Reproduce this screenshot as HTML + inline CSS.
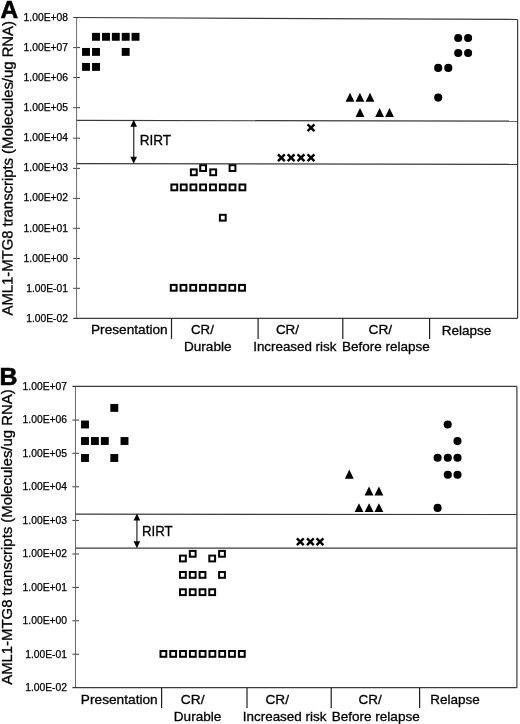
<!DOCTYPE html>
<html><head><meta charset="utf-8"><style>
html,body{margin:0;padding:0;background:#fff;}
body{width:520px;height:724px;overflow:hidden;}
svg{display:block;filter:grayscale(1);}
text{font-family:"Liberation Sans", sans-serif;fill:#000;}
</style></head><body>
<svg width="520" height="724" viewBox="0 0 520 724">
<rect width="520" height="724" fill="#fff"/>
<text x="68" y="21.10" font-size="10" text-anchor="end" textLength="44.38" lengthAdjust="spacingAndGlyphs" stroke="#000" stroke-width="0.25">1.00E+08</text>
<text x="68" y="51.16" font-size="10" text-anchor="end" textLength="44.38" lengthAdjust="spacingAndGlyphs" stroke="#000" stroke-width="0.25">1.00E+07</text>
<line x1="73.3" y1="47.60" x2="80" y2="47.60" stroke="#383838" stroke-width="1.0"/>
<text x="68" y="81.22" font-size="10" text-anchor="end" textLength="44.38" lengthAdjust="spacingAndGlyphs" stroke="#000" stroke-width="0.25">1.00E+06</text>
<line x1="73.3" y1="77.50" x2="80" y2="77.50" stroke="#383838" stroke-width="1.0"/>
<text x="68" y="111.28" font-size="10" text-anchor="end" textLength="44.38" lengthAdjust="spacingAndGlyphs" stroke="#000" stroke-width="0.25">1.00E+05</text>
<line x1="73.3" y1="107.70" x2="80" y2="107.70" stroke="#383838" stroke-width="1.0"/>
<text x="68" y="141.34" font-size="10" text-anchor="end" textLength="44.38" lengthAdjust="spacingAndGlyphs" stroke="#000" stroke-width="0.25">1.00E+04</text>
<line x1="73.3" y1="138.20" x2="80" y2="138.20" stroke="#383838" stroke-width="1.0"/>
<text x="68" y="171.40" font-size="10" text-anchor="end" textLength="44.38" lengthAdjust="spacingAndGlyphs" stroke="#000" stroke-width="0.25">1.00E+03</text>
<line x1="73.3" y1="168.40" x2="80" y2="168.40" stroke="#383838" stroke-width="1.0"/>
<text x="68" y="201.46" font-size="10" text-anchor="end" textLength="44.38" lengthAdjust="spacingAndGlyphs" stroke="#000" stroke-width="0.25">1.00E+02</text>
<line x1="73.3" y1="198.40" x2="80" y2="198.40" stroke="#383838" stroke-width="1.0"/>
<text x="68" y="231.52" font-size="10" text-anchor="end" textLength="44.38" lengthAdjust="spacingAndGlyphs" stroke="#000" stroke-width="0.25">1.00E+01</text>
<line x1="73.3" y1="228.30" x2="80" y2="228.30" stroke="#383838" stroke-width="1.0"/>
<text x="68" y="261.58" font-size="10" text-anchor="end" textLength="44.38" lengthAdjust="spacingAndGlyphs" stroke="#000" stroke-width="0.25">1.00E+00</text>
<line x1="73.3" y1="258.50" x2="80" y2="258.50" stroke="#383838" stroke-width="1.0"/>
<text x="68" y="291.64" font-size="10" text-anchor="end" textLength="41.80" lengthAdjust="spacingAndGlyphs" stroke="#000" stroke-width="0.25">1.00E-01</text>
<line x1="73.3" y1="288.30" x2="80" y2="288.30" stroke="#383838" stroke-width="1.0"/>
<text x="68" y="321.70" font-size="10" text-anchor="end" textLength="41.80" lengthAdjust="spacingAndGlyphs" stroke="#000" stroke-width="0.25">1.00E-02</text>
<line x1="76.6" y1="17.5" x2="76.6" y2="318.3" stroke="#6a6a6a" stroke-width="1.0"/>
<line x1="73.3" y1="17.5" x2="517.6" y2="19.5" stroke="#3a3a3a" stroke-width="1.2"/>
<line x1="517.6" y1="19.5" x2="517.6" y2="318.3" stroke="#3a3a3a" stroke-width="1.2"/>
<line x1="73.3" y1="318.3" x2="517.6" y2="318.3" stroke="#3a3a3a" stroke-width="1.2"/>
<line x1="76.6" y1="120.4" x2="517.6" y2="121.2" stroke="#3a3a3a" stroke-width="1.2"/>
<line x1="76.6" y1="163.6" x2="517.6" y2="164.4" stroke="#3a3a3a" stroke-width="1.2"/>
<line x1="171.5" y1="318.3" x2="171.5" y2="338.9" stroke="#1e1e1e" stroke-width="1.2"/>
<line x1="258.1" y1="318.3" x2="258.1" y2="338.9" stroke="#1e1e1e" stroke-width="1.2"/>
<line x1="342.8" y1="318.3" x2="342.8" y2="338.9" stroke="#1e1e1e" stroke-width="1.2"/>
<line x1="429.6" y1="318.3" x2="429.6" y2="338.9" stroke="#1e1e1e" stroke-width="1.2"/>
<line x1="133.7" y1="122.80000000000001" x2="133.7" y2="160.7" stroke="#444" stroke-width="1.4"/>
<path d="M133.7 119.80L137.0 126.80L130.39999999999998 126.80Z" fill="#000"/>
<path d="M133.7 163.70L137.0 156.70L130.39999999999998 156.70Z" fill="#000"/>
<text x="90.98" y="334.4" font-size="13.4" textLength="76.73" lengthAdjust="spacingAndGlyphs" stroke="#000" stroke-width="0.3">Presentation</text>
<text x="191.01" y="334.3" font-size="13.4" textLength="22.85" lengthAdjust="spacingAndGlyphs" stroke="#000" stroke-width="0.3">CR/</text>
<text x="183.99" y="350.9" font-size="13.4" textLength="47.53" lengthAdjust="spacingAndGlyphs" stroke="#000" stroke-width="0.3">Durable</text>
<text x="275.9" y="334.2" font-size="13.4" textLength="23.17" lengthAdjust="spacingAndGlyphs" stroke="#000" stroke-width="0.3">CR/</text>
<text x="253.2" y="350.6" font-size="13.4" textLength="83.16" lengthAdjust="spacingAndGlyphs" stroke="#000" stroke-width="0.3">Increased risk</text>
<text x="368.58" y="334.2" font-size="13.4" textLength="23.59" lengthAdjust="spacingAndGlyphs" stroke="#000" stroke-width="0.3">CR/</text>
<text x="341.99" y="350.5" font-size="13.4" textLength="87.8" lengthAdjust="spacingAndGlyphs" stroke="#000" stroke-width="0.3">Before relapse</text>
<text x="441.69" y="334.6" font-size="13.4" textLength="49.65" lengthAdjust="spacingAndGlyphs" stroke="#000" stroke-width="0.3">Relapse</text>
<text x="139.63" y="144.6" font-size="14" textLength="31.38" lengthAdjust="spacingAndGlyphs" stroke="#000" stroke-width="0.3">RIRT</text>
<text x="0.0" y="0" font-size="14.9" textLength="294.40" lengthAdjust="spacingAndGlyphs" transform="translate(12.4,315.5) rotate(-89.9)" stroke="#000" stroke-width="0.3">AML1-MTG8 transcripts (Molecules/ug RNA)</text>
<text x="0.48" y="18.1" font-size="24" font-weight="bold" textLength="17.67" lengthAdjust="spacingAndGlyphs" stroke="#000" stroke-width="0.6">A</text>
<text x="67" y="389.70" font-size="10" text-anchor="end" textLength="44.38" lengthAdjust="spacingAndGlyphs" stroke="#000" stroke-width="0.25">1.00E+07</text>
<text x="67" y="423.19" font-size="10" text-anchor="end" textLength="44.38" lengthAdjust="spacingAndGlyphs" stroke="#000" stroke-width="0.25">1.00E+06</text>
<line x1="72.4" y1="420.10" x2="79" y2="420.10" stroke="#383838" stroke-width="1.0"/>
<text x="67" y="456.68" font-size="10" text-anchor="end" textLength="44.38" lengthAdjust="spacingAndGlyphs" stroke="#000" stroke-width="0.25">1.00E+05</text>
<line x1="72.4" y1="453.30" x2="79" y2="453.30" stroke="#383838" stroke-width="1.0"/>
<text x="67" y="490.17" font-size="10" text-anchor="end" textLength="44.38" lengthAdjust="spacingAndGlyphs" stroke="#000" stroke-width="0.25">1.00E+04</text>
<line x1="72.4" y1="486.80" x2="79" y2="486.80" stroke="#383838" stroke-width="1.0"/>
<text x="67" y="523.66" font-size="10" text-anchor="end" textLength="44.38" lengthAdjust="spacingAndGlyphs" stroke="#000" stroke-width="0.25">1.00E+03</text>
<line x1="72.4" y1="520.40" x2="79" y2="520.40" stroke="#383838" stroke-width="1.0"/>
<text x="67" y="557.14" font-size="10" text-anchor="end" textLength="44.38" lengthAdjust="spacingAndGlyphs" stroke="#000" stroke-width="0.25">1.00E+02</text>
<line x1="72.4" y1="554.00" x2="79" y2="554.00" stroke="#383838" stroke-width="1.0"/>
<text x="67" y="590.63" font-size="10" text-anchor="end" textLength="44.38" lengthAdjust="spacingAndGlyphs" stroke="#000" stroke-width="0.25">1.00E+01</text>
<line x1="72.4" y1="587.40" x2="79" y2="587.40" stroke="#383838" stroke-width="1.0"/>
<text x="67" y="624.12" font-size="10" text-anchor="end" textLength="44.38" lengthAdjust="spacingAndGlyphs" stroke="#000" stroke-width="0.25">1.00E+00</text>
<line x1="72.4" y1="620.80" x2="79" y2="620.80" stroke="#383838" stroke-width="1.0"/>
<text x="67" y="657.61" font-size="10" text-anchor="end" textLength="41.80" lengthAdjust="spacingAndGlyphs" stroke="#000" stroke-width="0.25">1.00E-01</text>
<line x1="72.4" y1="654.20" x2="79" y2="654.20" stroke="#383838" stroke-width="1.0"/>
<text x="67" y="691.10" font-size="10" text-anchor="end" textLength="41.80" lengthAdjust="spacingAndGlyphs" stroke="#000" stroke-width="0.25">1.00E-02</text>
<line x1="75.5" y1="386.3" x2="75.5" y2="687.7" stroke="#6a6a6a" stroke-width="1.0"/>
<line x1="72.4" y1="386.3" x2="516.9" y2="386.4" stroke="#3a3a3a" stroke-width="1.2"/>
<line x1="516.9" y1="386.4" x2="516.9" y2="687.7" stroke="#3a3a3a" stroke-width="1.2"/>
<line x1="72.4" y1="687.7" x2="516.9" y2="687.7" stroke="#3a3a3a" stroke-width="1.2"/>
<line x1="75.5" y1="514.2" x2="516.9" y2="514.5" stroke="#3a3a3a" stroke-width="1.2"/>
<line x1="75.5" y1="548.2" x2="516.9" y2="548.2" stroke="#3a3a3a" stroke-width="1.2"/>
<line x1="161.6" y1="687.7" x2="161.6" y2="708" stroke="#1e1e1e" stroke-width="1.2"/>
<line x1="247.0" y1="687.7" x2="247.0" y2="708" stroke="#1e1e1e" stroke-width="1.2"/>
<line x1="331.2" y1="687.7" x2="331.2" y2="708" stroke="#1e1e1e" stroke-width="1.2"/>
<line x1="419.6" y1="687.7" x2="419.6" y2="708" stroke="#1e1e1e" stroke-width="1.2"/>
<line x1="136.9" y1="516.6" x2="136.9" y2="545.3000000000001" stroke="#444" stroke-width="1.4"/>
<path d="M136.9 513.60L140.20000000000002 520.60L133.6 520.60Z" fill="#000"/>
<path d="M136.9 548.30L140.20000000000002 541.30L133.6 541.30Z" fill="#000"/>
<text x="80.88" y="703.5" font-size="13.4" textLength="76.84" lengthAdjust="spacingAndGlyphs" stroke="#000" stroke-width="0.3">Presentation</text>
<text x="180.87" y="703.8" font-size="13.4" textLength="23.8" lengthAdjust="spacingAndGlyphs" stroke="#000" stroke-width="0.3">CR/</text>
<text x="173.79" y="720.5" font-size="13.4" textLength="47.53" lengthAdjust="spacingAndGlyphs" stroke="#000" stroke-width="0.3">Durable</text>
<text x="265.48" y="703.8" font-size="13.4" textLength="23.59" lengthAdjust="spacingAndGlyphs" stroke="#000" stroke-width="0.3">CR/</text>
<text x="242.8" y="720.5" font-size="13.4" textLength="83.56" lengthAdjust="spacingAndGlyphs" stroke="#000" stroke-width="0.3">Increased risk</text>
<text x="358.6" y="703.8" font-size="13.4" textLength="23.17" lengthAdjust="spacingAndGlyphs" stroke="#000" stroke-width="0.3">CR/</text>
<text x="331.69" y="720.5" font-size="13.4" textLength="88.01" lengthAdjust="spacingAndGlyphs" stroke="#000" stroke-width="0.3">Before relapse</text>
<text x="430.19" y="703.7" font-size="13.4" textLength="49.55" lengthAdjust="spacingAndGlyphs" stroke="#000" stroke-width="0.3">Relapse</text>
<text x="141.95" y="535.6" font-size="14" textLength="30.75" lengthAdjust="spacingAndGlyphs" stroke="#000" stroke-width="0.3">RIRT</text>
<text x="0.0" y="0" font-size="14.9" textLength="295.40" lengthAdjust="spacingAndGlyphs" transform="translate(11.7,684.8) rotate(-90)" stroke="#000" stroke-width="0.3">AML1-MTG8 transcripts (Molecules/ug RNA)</text>
<text x="-0.57" y="385.4" font-size="24" font-weight="bold" textLength="17.96" lengthAdjust="spacingAndGlyphs" stroke="#000" stroke-width="0.6">B</text>
<rect x="92.05" y="32.85" width="7.9" height="7.9" fill="#000"/>
<rect x="102.05" y="32.85" width="7.9" height="7.9" fill="#000"/>
<rect x="111.85" y="32.85" width="7.9" height="7.9" fill="#000"/>
<rect x="121.75" y="32.85" width="7.9" height="7.9" fill="#000"/>
<rect x="131.55" y="32.85" width="7.9" height="7.9" fill="#000"/>
<rect x="82.05" y="47.95" width="7.9" height="7.9" fill="#000"/>
<rect x="92.05" y="47.95" width="7.9" height="7.9" fill="#000"/>
<rect x="121.75" y="47.95" width="7.9" height="7.9" fill="#000"/>
<rect x="82.05" y="62.95" width="7.9" height="7.9" fill="#000"/>
<rect x="92.05" y="62.95" width="7.9" height="7.9" fill="#000"/>
<rect x="190.90" y="169.40" width="5.80" height="5.80" fill="none" stroke="#000" stroke-width="2.0"/>
<rect x="200.20" y="165.20" width="5.80" height="5.80" fill="none" stroke="#000" stroke-width="2.0"/>
<rect x="210.30" y="169.40" width="5.80" height="5.80" fill="none" stroke="#000" stroke-width="2.0"/>
<rect x="229.60" y="165.20" width="5.80" height="5.80" fill="none" stroke="#000" stroke-width="2.0"/>
<rect x="171.40" y="184.50" width="5.80" height="5.80" fill="none" stroke="#000" stroke-width="2.0"/>
<rect x="180.80" y="184.50" width="5.80" height="5.80" fill="none" stroke="#000" stroke-width="2.0"/>
<rect x="190.50" y="184.50" width="5.80" height="5.80" fill="none" stroke="#000" stroke-width="2.0"/>
<rect x="200.20" y="184.50" width="5.80" height="5.80" fill="none" stroke="#000" stroke-width="2.0"/>
<rect x="210.10" y="184.50" width="5.80" height="5.80" fill="none" stroke="#000" stroke-width="2.0"/>
<rect x="219.90" y="184.50" width="5.80" height="5.80" fill="none" stroke="#000" stroke-width="2.0"/>
<rect x="229.60" y="184.50" width="5.80" height="5.80" fill="none" stroke="#000" stroke-width="2.0"/>
<rect x="239.50" y="184.50" width="5.80" height="5.80" fill="none" stroke="#000" stroke-width="2.0"/>
<rect x="219.90" y="214.80" width="5.80" height="5.80" fill="none" stroke="#000" stroke-width="2.0"/>
<rect x="170.80" y="284.90" width="5.80" height="5.80" fill="none" stroke="#000" stroke-width="2.0"/>
<rect x="180.56" y="284.90" width="5.80" height="5.80" fill="none" stroke="#000" stroke-width="2.0"/>
<rect x="190.32" y="284.90" width="5.80" height="5.80" fill="none" stroke="#000" stroke-width="2.0"/>
<rect x="200.08" y="284.90" width="5.80" height="5.80" fill="none" stroke="#000" stroke-width="2.0"/>
<rect x="209.84" y="284.90" width="5.80" height="5.80" fill="none" stroke="#000" stroke-width="2.0"/>
<rect x="219.60" y="284.90" width="5.80" height="5.80" fill="none" stroke="#000" stroke-width="2.0"/>
<rect x="229.36" y="284.90" width="5.80" height="5.80" fill="none" stroke="#000" stroke-width="2.0"/>
<rect x="239.12" y="284.90" width="5.80" height="5.80" fill="none" stroke="#000" stroke-width="2.0"/>
<path d="M307.60 124.40L314.40 131.20M314.40 124.40L307.60 131.20" stroke="#000" stroke-width="2.4" fill="none"/>
<path d="M278.00 154.30L284.80 161.10M284.80 154.30L278.00 161.10" stroke="#000" stroke-width="2.4" fill="none"/>
<path d="M287.70 154.30L294.50 161.10M294.50 154.30L287.70 161.10" stroke="#000" stroke-width="2.4" fill="none"/>
<path d="M297.60 154.30L304.40 161.10M304.40 154.30L297.60 161.10" stroke="#000" stroke-width="2.4" fill="none"/>
<path d="M307.60 154.30L314.40 161.10M314.40 154.30L307.60 161.10" stroke="#000" stroke-width="2.4" fill="none"/>
<path d="M350.00 92.80L354.40 101.70L345.60 101.70Z" fill="#000"/>
<path d="M359.90 92.80L364.30 101.70L355.50 101.70Z" fill="#000"/>
<path d="M370.00 92.80L374.40 101.70L365.60 101.70Z" fill="#000"/>
<path d="M360.00 108.00L364.40 117.00L355.60 117.00Z" fill="#000"/>
<path d="M379.60 108.00L384.00 117.00L375.20 117.00Z" fill="#000"/>
<path d="M389.50 108.00L393.90 117.00L385.10 117.00Z" fill="#000"/>
<circle cx="458.20" cy="38.00" r="4.05" fill="#000"/>
<circle cx="468.10" cy="38.00" r="4.05" fill="#000"/>
<circle cx="458.20" cy="53.00" r="4.05" fill="#000"/>
<circle cx="468.10" cy="53.00" r="4.05" fill="#000"/>
<circle cx="438.20" cy="67.90" r="4.05" fill="#000"/>
<circle cx="448.30" cy="67.90" r="4.05" fill="#000"/>
<circle cx="438.20" cy="97.60" r="4.05" fill="#000"/>
<rect x="110.35" y="403.95" width="7.9" height="7.9" fill="#000"/>
<rect x="81.05" y="420.55" width="7.9" height="7.9" fill="#000"/>
<rect x="81.05" y="437.05" width="7.9" height="7.9" fill="#000"/>
<rect x="90.95" y="437.05" width="7.9" height="7.9" fill="#000"/>
<rect x="100.85" y="437.05" width="7.9" height="7.9" fill="#000"/>
<rect x="120.55" y="437.05" width="7.9" height="7.9" fill="#000"/>
<rect x="81.05" y="454.05" width="7.9" height="7.9" fill="#000"/>
<rect x="110.35" y="454.05" width="7.9" height="7.9" fill="#000"/>
<rect x="180.00" y="555.60" width="5.80" height="5.80" fill="none" stroke="#000" stroke-width="2.0"/>
<rect x="189.80" y="550.90" width="5.80" height="5.80" fill="none" stroke="#000" stroke-width="2.0"/>
<rect x="209.30" y="555.60" width="5.80" height="5.80" fill="none" stroke="#000" stroke-width="2.0"/>
<rect x="219.10" y="550.90" width="5.80" height="5.80" fill="none" stroke="#000" stroke-width="2.0"/>
<rect x="180.00" y="572.00" width="5.80" height="5.80" fill="none" stroke="#000" stroke-width="2.0"/>
<rect x="189.80" y="572.00" width="5.80" height="5.80" fill="none" stroke="#000" stroke-width="2.0"/>
<rect x="199.60" y="572.00" width="5.80" height="5.80" fill="none" stroke="#000" stroke-width="2.0"/>
<rect x="219.10" y="572.00" width="5.80" height="5.80" fill="none" stroke="#000" stroke-width="2.0"/>
<rect x="180.00" y="589.30" width="5.80" height="5.80" fill="none" stroke="#000" stroke-width="2.0"/>
<rect x="189.80" y="589.30" width="5.80" height="5.80" fill="none" stroke="#000" stroke-width="2.0"/>
<rect x="199.60" y="589.30" width="5.80" height="5.80" fill="none" stroke="#000" stroke-width="2.0"/>
<rect x="209.30" y="589.30" width="5.80" height="5.80" fill="none" stroke="#000" stroke-width="2.0"/>
<rect x="160.50" y="651.00" width="5.80" height="5.80" fill="none" stroke="#000" stroke-width="2.0"/>
<rect x="170.30" y="651.00" width="5.80" height="5.80" fill="none" stroke="#000" stroke-width="2.0"/>
<rect x="180.10" y="651.00" width="5.80" height="5.80" fill="none" stroke="#000" stroke-width="2.0"/>
<rect x="189.90" y="651.00" width="5.80" height="5.80" fill="none" stroke="#000" stroke-width="2.0"/>
<rect x="199.70" y="651.00" width="5.80" height="5.80" fill="none" stroke="#000" stroke-width="2.0"/>
<rect x="209.50" y="651.00" width="5.80" height="5.80" fill="none" stroke="#000" stroke-width="2.0"/>
<rect x="219.30" y="651.00" width="5.80" height="5.80" fill="none" stroke="#000" stroke-width="2.0"/>
<rect x="229.10" y="651.00" width="5.80" height="5.80" fill="none" stroke="#000" stroke-width="2.0"/>
<rect x="238.90" y="651.00" width="5.80" height="5.80" fill="none" stroke="#000" stroke-width="2.0"/>
<path d="M296.90 538.40L303.70 545.20M303.70 538.40L296.90 545.20" stroke="#000" stroke-width="2.4" fill="none"/>
<path d="M307.00 538.40L313.80 545.20M313.80 538.40L307.00 545.20" stroke="#000" stroke-width="2.4" fill="none"/>
<path d="M316.60 538.40L323.40 545.20M323.40 538.40L316.60 545.20" stroke="#000" stroke-width="2.4" fill="none"/>
<path d="M349.30 469.50L353.70 478.70L344.90 478.70Z" fill="#000"/>
<path d="M369.00 486.50L373.40 495.50L364.60 495.50Z" fill="#000"/>
<path d="M378.90 486.50L383.30 495.50L374.50 495.50Z" fill="#000"/>
<path d="M359.00 503.30L363.40 511.90L354.60 511.90Z" fill="#000"/>
<path d="M369.10 503.30L373.50 511.90L364.70 511.90Z" fill="#000"/>
<path d="M378.90 503.30L383.30 511.90L374.50 511.90Z" fill="#000"/>
<circle cx="447.70" cy="424.50" r="4.05" fill="#000"/>
<circle cx="457.50" cy="441.10" r="4.05" fill="#000"/>
<circle cx="437.60" cy="457.80" r="4.05" fill="#000"/>
<circle cx="447.80" cy="457.80" r="4.05" fill="#000"/>
<circle cx="457.50" cy="457.80" r="4.05" fill="#000"/>
<circle cx="447.80" cy="474.80" r="4.05" fill="#000"/>
<circle cx="457.50" cy="474.80" r="4.05" fill="#000"/>
<circle cx="437.60" cy="507.90" r="4.05" fill="#000"/>
</svg>
</body></html>
